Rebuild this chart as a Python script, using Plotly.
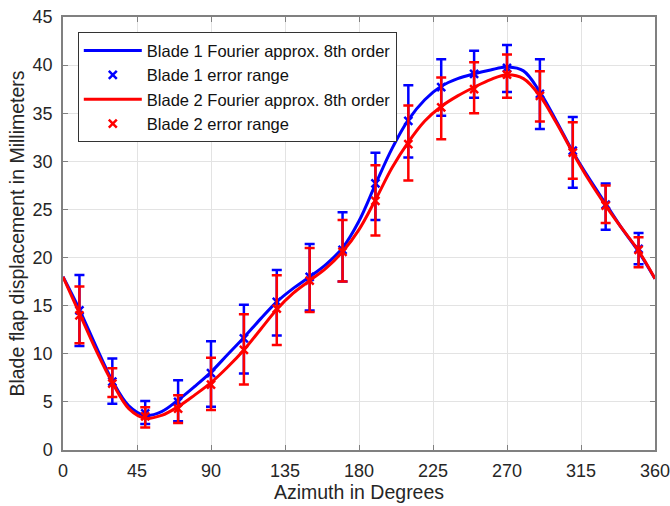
import plotly.graph_objects as go

# Fourier-approximation curves (every 10 degrees)
curve_az = list(range(0, 361, 10))
blade1_curve = [18.0, 14.6, 10.8, 7.2, 4.6, 3.6, 4.0, 5.2, 6.6, 8.1, 9.9, 11.7, 13.6, 15.4,
                16.8, 18.0, 19.3, 21.0, 23.8, 27.6, 31.3, 34.3, 36.4, 37.8, 38.6, 39.1, 39.5,
                39.8, 39.4, 37.2, 34.2, 31.0, 28.2, 25.6, 23.0, 20.6, 17.8]
blade2_curve = [18.0, 14.2, 10.4, 7.0, 4.3, 3.3, 3.6, 4.5, 5.7, 7.0, 8.6, 10.4, 12.5, 14.6,
                16.3, 17.6, 18.9, 20.6, 22.9, 26.0, 29.3, 32.0, 34.2, 35.7, 36.8, 37.7, 38.5,
                39.0, 38.6, 36.8, 34.0, 30.9, 28.0, 25.4, 23.0, 20.7, 17.8]

# Measured points with error ranges
pt_az = [10, 30, 50, 70, 90, 110, 130, 150, 170, 190, 210, 230, 250, 270, 290, 310, 330, 350]
blade1_mean = [14.5, 7.1, 3.8, 5.0, 8.0, 11.6, 15.4, 18.0, 20.8, 27.7, 34.2, 37.7, 39.1, 39.7, 37.0, 31.1, 25.5, 20.9]
blade1_upper = [18.2, 9.5, 5.1, 7.25, 11.3, 15.1, 18.7, 21.4, 24.7, 30.9, 37.9, 40.6, 41.5, 42.1, 40.6, 34.6, 27.7, 22.55]
blade1_lower = [10.8, 4.8, 2.7, 3.0, 4.5, 7.95, 11.9, 14.5, 17.5, 23.9, 30.4, 34.75, 36.6, 37.2, 33.35, 27.25, 22.9, 19.3]
blade2_mean = [14.0, 6.9, 3.5, 4.3, 6.8, 10.4, 14.7, 17.6, 20.6, 25.9, 31.8, 35.6, 37.5, 39.0, 36.8, 30.9, 25.4, 20.8]
blade2_upper = [17.0, 8.5, 4.45, 5.7, 9.6, 14.1, 18.15, 21.0, 23.9, 29.6, 35.8, 38.7, 40.3, 41.1, 39.35, 34.05, 27.5, 22.1]
blade2_lower = [11.1, 5.5, 2.35, 2.8, 4.15, 6.8, 10.9, 14.35, 17.5, 22.3, 28.0, 32.3, 35.0, 36.6, 34.15, 28.2, 23.6, 19.0]

x_ticks = [0, 45, 90, 135, 180, 225, 270, 315, 360]
y_ticks = list(range(0, 46, 5))

BLUE = "#0000FF"
RED = "#FF0000"
FONT = "Liberation Sans, Arial"

def err(mean, upper, lower):
    return dict(type="data", symmetric=False,
                array=[u - m for u, m in zip(upper, mean)],
                arrayminus=[m - l for m, l in zip(mean, lower)],
                thickness=2.5, width=5)

fig = go.Figure()
fig.add_trace(go.Scatter(x=curve_az, y=blade1_curve, mode="lines", line=dict(color=BLUE, width=3, shape="spline"),
                         name="Blade 1 Fourier approx. 8th order", legendrank=1))
fig.add_trace(go.Scatter(x=pt_az, y=blade1_mean, mode="markers",
                         marker=dict(symbol="x-thin", size=8, line=dict(color=BLUE, width=2.5), color=BLUE),
                         error_y=dict(color=BLUE, **err(blade1_mean, blade1_upper, blade1_lower)),
                         name="Blade 1 error range", legendrank=2))
fig.add_trace(go.Scatter(x=curve_az, y=blade2_curve, mode="lines", line=dict(color=RED, width=3, shape="spline"),
                         name="Blade 2 Fourier approx. 8th order", legendrank=3))
fig.add_trace(go.Scatter(x=pt_az, y=blade2_mean, mode="markers",
                         marker=dict(symbol="x-thin", size=8, line=dict(color=RED, width=2.5), color=RED),
                         error_y=dict(color=RED, **err(blade2_mean, blade2_upper, blade2_lower)),
                         name="Blade 2 error range", legendrank=4))

axis_common = dict(showline=True, linecolor="#808080", linewidth=1.5, mirror="ticks",
                   ticks="inside", ticklen=5, tickcolor="#808080", automargin=False,
                   ticklabeloverflow="allow",
                   showgrid=True, gridcolor="#E3E3E3", gridwidth=1, zeroline=False,
                   tickfont=dict(family=FONT, size=18, color="#262626"))

fig.update_layout(
    width=670, height=506,
    margin=dict(l=63, r=15, t=17, b=56),
    plot_bgcolor="white", paper_bgcolor="white",
    font=dict(family=FONT, color="#262626"),
    xaxis=dict(range=[0, 360], tickvals=x_ticks, ticklabelstandoff=4,
               title=dict(text="Azimuth in Degrees", font=dict(size=19.5), standoff=2), **axis_common),
    yaxis=dict(range=[0, 45], tickvals=y_ticks, ticklabelstandoff=5,
               title=dict(text="Blade flap displacement in Millimeters", font=dict(size=19.5), standoff=3), **axis_common),
    legend=dict(x=0.025, y=0.965, xanchor="left", yanchor="top", bgcolor="white",
                bordercolor="#333333", borderwidth=1, font=dict(family=FONT, size=16.5, color="#111111"),
                tracegroupgap=0, itemwidth=58),
    showlegend=True,
)

fig.write_html("out.html")
